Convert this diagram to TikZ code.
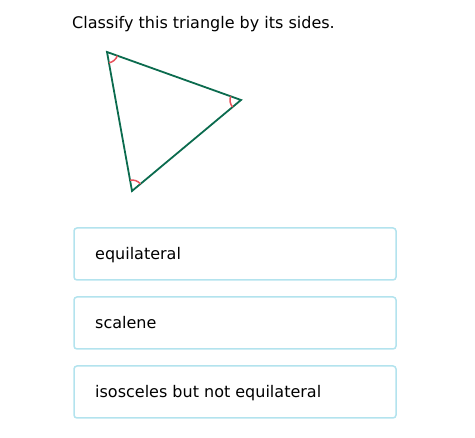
\documentclass[tikz,border=0pt]{standalone}
\usepackage{fontspec}
\setmainfont{DejaVu Sans}
\usetikzlibrary{angles}
\definecolor{tri}{HTML}{0B6B4E}
\definecolor{arcred}{HTML}{E8515B}
\definecolor{boxline}{HTML}{B3E3EE}
\begin{document}
\begin{tikzpicture}[x=1pt,y=-1pt,
  txt/.style={font=\fontsize{16}{19}\selectfont, anchor=base west, inner sep=0pt},
  choice/.style={draw=boxline, line width=1.5pt, rounded corners=3pt, fill=white},
  ang/.style={draw=arcred, line width=1.5pt, angle radius=11pt}]
\useasboundingbox (0,0) rectangle (475,438);
\node[txt] (title) at (72,29) {Classify this triangle by its sides.};
\coordinate (A) at (107,52);
\coordinate (B) at (241,100);
\coordinate (C) at (132,191);
\draw[tri, line width=1.8pt, line join=miter] (A) -- (B) -- (C) -- cycle;
\pic[ang] {angle=C--A--B};
\pic[ang] {angle=A--B--C};
\pic[ang] {angle=B--C--A};
\draw[choice] (74,228) rectangle (396,280);
\draw[choice] (74,297) rectangle (396,349);
\draw[choice] (74,366) rectangle (396,418);
\node[txt] (o1) at (95,260) {equilateral};
\node[txt] (o2) at (95,329) {scalene};
\node[txt] (o3) at (95,398) {isosceles but not equilateral};
\end{tikzpicture}
\end{document}
